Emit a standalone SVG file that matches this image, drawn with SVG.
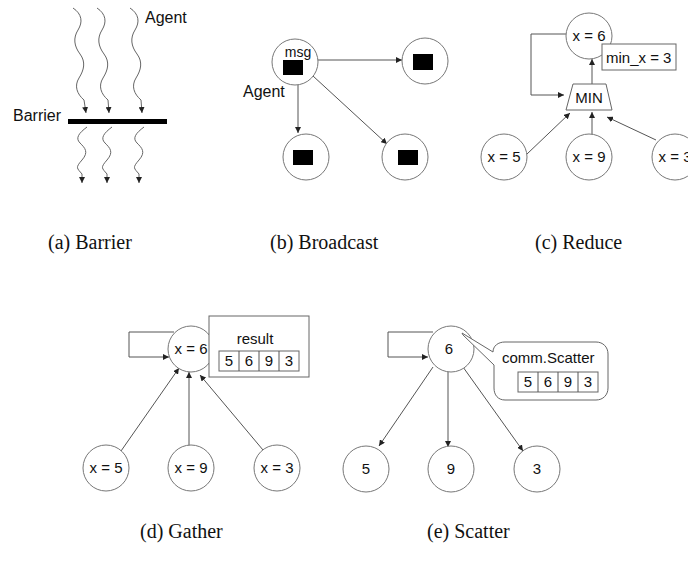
<svg xmlns="http://www.w3.org/2000/svg" width="688" height="563" viewBox="0 0 688 563">
  <defs>
    <marker id="arrow" markerWidth="6" markerHeight="6" refX="6" refY="3" orient="auto" markerUnits="userSpaceOnUse">
      <path d="M0,0 L6,3 L0,6 z" fill="#222"/>
    </marker>
    <style>
      .edge { fill: none; stroke: #555; stroke-width: 1; }
      .arr { marker-end: url(#arrow); }
      .wave { fill: none; stroke: #666; stroke-width: 1; }
      .node { fill: #fff; stroke: #777; stroke-width: 1; }
      .box { fill: #fff; stroke: #666; stroke-width: 1; }
      .lbl { font-family: "Liberation Sans", Arial, sans-serif; font-size: 16px; fill: #111; }
      .sm { font-size: 15px; }
      .xs { font-size: 14px; }
      .mid { text-anchor: middle; font-size: 15px; }
      .cap { font-family: "Liberation Serif", "Times New Roman", serif; font-size: 20px; fill: #111; }
    </style>
  </defs>

  <!-- (a) Barrier -->
  <g id="barrier">
    <path class="wave arr" d="M73,8 C82,14 83,22 78,30 S74,46 80,54 S84,70 79,78 S77,94 84,100 L86,113"/>
    <path class="wave arr" d="M97,8 C106,14 107,22 102,30 S98,46 104,54 S108,70 103,78 S101,94 108,100 L109,113"/>
    <path class="wave arr" d="M130,8 C139,14 140,22 135,30 S131,46 137,54 S141,70 136,78 S134,94 141,100 L142,113"/>
    <rect x="68" y="119" width="99" height="5" fill="#000"/>
    <path class="wave arr" d="M87,127 C79,133 75,138 80,143 S89,152 82,160 S77,168 82,174 L82,183"/>
    <path class="wave arr" d="M112,127 C104,133 100,138 105,143 S114,152 107,160 S102,168 107,174 L107,183"/>
    <path class="wave arr" d="M144,127 C136,133 132,138 137,143 S146,152 139,160 S134,168 139,174 L139,183"/>
    <text class="lbl" x="145" y="23">Agent</text>
    <text class="lbl" x="13" y="121">Barrier</text>
  </g>

  <!-- (b) Broadcast -->
  <g id="broadcast-edges">
    <line class="edge arr" x1="318" y1="60" x2="402" y2="60"/>
    <line class="edge arr" x1="298" y1="85" x2="298" y2="133"/>
    <line class="edge arr" x1="313" y1="76" x2="387" y2="144"/>
  </g>
  <g id="b-src">
    <circle class="node" cx="295" cy="62" r="23"/>
    <text class="lbl xs" x="298" y="57" text-anchor="middle">msg</text>
    <rect x="283" y="60" width="20" height="15" fill="#000"/>
    <text class="lbl" x="243" y="97">Agent</text>
  </g>
  <g id="b-right">
    <circle class="node" cx="425" cy="61" r="23"/>
    <rect x="413" y="54" width="20" height="16" fill="#000"/>
  </g>
  <g id="b-left">
    <circle class="node" cx="306" cy="157" r="23"/>
    <rect x="293" y="150" width="20" height="15" fill="#000"/>
  </g>
  <g id="b-diag">
    <circle class="node" cx="405" cy="157" r="23"/>
    <rect x="398" y="150" width="20" height="15" fill="#000"/>
  </g>

  <!-- (c) Reduce -->
  <g id="reduce-edges">
    <polyline class="edge arr" points="566,34 531,34 531,95 564,95"/>
    <line class="edge arr" x1="592" y1="84" x2="592" y2="59"/>
    <line class="edge arr" x1="527" y1="154" x2="570" y2="113"/>
    <line class="edge arr" x1="592" y1="135" x2="592" y2="112"/>
    <line class="edge arr" x1="656" y1="140" x2="607" y2="117"/>
  </g>
  <g id="c-root">
    <circle class="node" cx="589" cy="36" r="23"/>
    <text class="lbl mid" x="589" y="41">x = 6</text>
  </g>
  <g id="c-result">
    <rect class="box" x="602" y="44" width="74" height="26"/>
    <text class="lbl sm" x="606" y="63">min_x = 3</text>
  </g>
  <g id="c-min">
    <polygon class="box" points="573,84 606,84 612,110 566,110"/>
    <text class="lbl sm" x="589" y="103" text-anchor="middle">MIN</text>
  </g>
  <g id="c-x5">
    <circle class="node" cx="504" cy="157" r="23"/>
    <text class="lbl mid" x="504" y="162">x = 5</text>
  </g>
  <g id="c-x9">
    <circle class="node" cx="589" cy="157" r="23"/>
    <text class="lbl mid" x="589" y="162">x = 9</text>
  </g>
  <g id="c-x3">
    <circle class="node" cx="675" cy="157" r="23"/>
    <text class="lbl mid" x="675" y="162">x = 3</text>
  </g>

  <!-- (d) Gather -->
  <g id="gather-edges">
    <polyline class="edge arr" points="174,332 129,332 129,357 169,357"/>
    <line class="edge arr" x1="121" y1="451" x2="179" y2="368"/>
    <line class="edge arr" x1="189" y1="447" x2="189" y2="372"/>
    <line class="edge arr" x1="263" y1="450" x2="200" y2="375"/>
  </g>
  <g id="d-root">
    <circle class="node" cx="191" cy="349" r="23"/>
    <text class="lbl mid" x="191" y="354">x = 6</text>
  </g>
  <g id="d-result">
    <rect class="box" x="209" y="316" width="100" height="61"/>
    <text class="lbl sm" x="255" y="344" text-anchor="middle">result</text>
    <rect class="box" x="219" y="351" width="80" height="20"/>
    <path class="edge" d="M239,351 V371 M259,351 V371 M279,351 V371"/>
    <text class="lbl mid" x="229" y="366">5</text>
    <text class="lbl mid" x="249" y="366">6</text>
    <text class="lbl mid" x="269" y="366">9</text>
    <text class="lbl mid" x="289" y="366">3</text>
  </g>
  <g id="d-x5">
    <circle class="node" cx="106" cy="468" r="23"/>
    <text class="lbl mid" x="106" y="473">x = 5</text>
  </g>
  <g id="d-x9">
    <circle class="node" cx="191" cy="468" r="23"/>
    <text class="lbl mid" x="191" y="473">x = 9</text>
  </g>
  <g id="d-x3">
    <circle class="node" cx="277" cy="468" r="23"/>
    <text class="lbl mid" x="277" y="473">x = 3</text>
  </g>

  <!-- (e) Scatter -->
  <g id="scatter-edges">
    <polyline class="edge arr" points="433,332 388,332 388,357 428,357"/>
    <line class="edge arr" x1="433" y1="367" x2="379" y2="446"/>
    <line class="edge arr" x1="448" y1="372" x2="448" y2="447"/>
    <line class="edge arr" x1="463" y1="367" x2="523" y2="451"/>
  </g>
  <g id="e-root">
    <circle class="node" cx="451" cy="349" r="23"/>
    <text class="lbl mid" x="449" y="354">6</text>
  </g>
  <g id="e-callout">
    <path class="box" d="M493,352 C493,346 498,342 505,342 L596,342 C603,342 608,347 608,354 L608,388 C608,395 603,400 596,400 L505,400 C498,400 494,395 494,388 L494,365 L463,335 L462,333 z"/>
    <text class="lbl sm" x="502" y="363">comm.Scatter</text>
    <rect class="box" x="518" y="372" width="80" height="20"/>
    <path class="edge" d="M538,372 V392 M558,372 V392 M578,372 V392"/>
    <text class="lbl mid" x="528" y="387">5</text>
    <text class="lbl mid" x="548" y="387">6</text>
    <text class="lbl mid" x="568" y="387">9</text>
    <text class="lbl mid" x="588" y="387">3</text>
  </g>
  <g id="e-5">
    <circle class="node" cx="366" cy="469" r="23"/>
    <text class="lbl mid" x="366" y="474">5</text>
  </g>
  <g id="e-9">
    <circle class="node" cx="451" cy="469" r="23"/>
    <text class="lbl mid" x="451" y="474">9</text>
  </g>
  <g id="e-3">
    <circle class="node" cx="537" cy="469" r="23"/>
    <text class="lbl mid" x="537" y="474">3</text>
  </g>

  <!-- captions -->
  <text class="cap" x="48" y="249">(a) Barrier</text>
  <text class="cap" x="270" y="249">(b) Broadcast</text>
  <text class="cap" x="535" y="249">(c) Reduce</text>
  <text class="cap" x="140" y="538">(d) Gather</text>
  <text class="cap" x="427" y="538">(e) Scatter</text>
</svg>
